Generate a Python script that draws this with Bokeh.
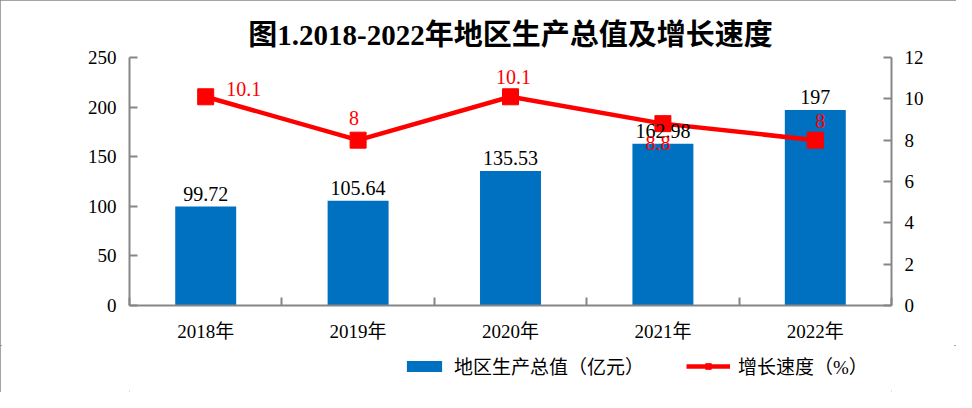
from bokeh.plotting import figure
from bokeh.layouts import column
from bokeh.models import (Range1d, FactorRange, LinearAxis, FixedTicker, ColumnDataSource,
                          LabelSet, Legend, LegendItem, Title)
from bokeh.core.properties import value
from bokeh.embed import file_html
from bokeh.resources import INLINE

# ---------------- data ----------------
years = ["2018年", "2019年", "2020年", "2021年", "2022年"]
gdp = [99.72, 105.64, 135.53, 162.98, 197]
growth = [10.1, 8, 10.1, 8.8, 8]
gdp_ticks = [0, 50, 100, 150, 200, 250]
growth_ticks = [0, 2, 4, 6, 8, 10, 12]

title_text = "图1.2018-2022年地区生产总值及增长速度"
legend_gdp = "地区生产总值（亿元）"
legend_growth = "增长速度（%）"

gdp_labels = [f"{v:g}" for v in gdp]
growth_labels = [f"{v:g}" for v in growth]

# label placement offsets (pixels)
growth_dx = [38, -4, 3, -5, 5]
growth_dy = [1, 15, 13, -26, 12]

# ---------------- styles ----------------
FONT = "Liberation Serif, Noto Sans CJK SC"
BLUE = "#0070C0"
RED = "#FF0000"
GRAY = "#868686"

src = ColumnDataSource(dict(years=years, gdp=gdp, growth=growth,
                            gdp_label=gdp_labels, growth_label=growth_labels,
                            dx=growth_dx, dy=growth_dy))

p = figure(frame_width=762, frame_height=248, output_backend="svg", toolbar_location=None,
           x_range=FactorRange(factors=years, range_padding=0),
           y_range=Range1d(0, gdp_ticks[-1]),
           x_axis_location=None, y_axis_location=None,
           min_border_left=129, min_border_right=65, min_border_top=57, min_border_bottom=40)
p.extra_y_ranges = {"rate": Range1d(0, growth_ticks[-1])}
p.outline_line_color = None
p.background_fill_color = "white"
p.border_fill_color = "white"
p.grid.visible = False

p.title = Title(text=title_text, align="center", offset=-6, standoff=14,
                text_font=FONT, text_font_size="29px", text_font_style="bold",
                text_color="black")


def style_axis(ax):
    ax.axis_line_color = GRAY
    ax.axis_line_width = 2
    ax.major_tick_line_color = GRAY
    ax.major_tick_line_width = 2
    ax.major_tick_in = 8
    ax.major_tick_out = 0
    ax.minor_tick_line_color = None
    ax.major_label_text_font = FONT
    ax.major_label_text_font_size = "19px"
    ax.major_label_text_color = "black"
    ax.major_label_standoff = 13


left = LinearAxis(ticker=FixedTicker(ticks=gdp_ticks))
style_axis(left)
p.add_layout(left, "left")

right = LinearAxis(y_range_name="rate", ticker=FixedTicker(ticks=growth_ticks))
style_axis(right)
p.add_layout(right, "right")

# category slots in synthetic coordinates: labels at centres, ticks at boundaries
centers = [i + 0.5 for i in range(len(years))]
bottom = LinearAxis(ticker=FixedTicker(ticks=centers, minor_ticks=list(range(len(years) + 1))),
                    major_label_overrides={c: y for c, y in zip(centers, years)})
style_axis(bottom)
bottom.major_tick_line_color = None
bottom.minor_tick_line_color = GRAY
bottom.minor_tick_line_width = 2
bottom.minor_tick_in = 8
bottom.minor_tick_out = 0
bottom.major_label_standoff = 15
p.add_layout(bottom, "below")

# ---------------- glyphs ----------------
p.vbar(x="years", top="gdp", width=0.4, source=src, fill_color=BLUE, line_color=None)
p.line(x="years", y="growth", source=src, y_range_name="rate", line_color=RED, line_width=4.5)
p.scatter(x="years", y="growth", source=src, y_range_name="rate", marker="square",
          size=16, fill_color=RED, line_color=RED)

p.add_layout(LabelSet(x="years", y="gdp", text="gdp_label", source=src,
                      text_align="center", text_baseline="alphabetic", y_offset=6,
                      text_font=value(FONT), text_font_size="20px", text_color="black"))
p.add_layout(LabelSet(x="years", y="growth", text="growth_label", source=src, y_range_name="rate",
                      x_offset="dx", y_offset="dy",
                      text_align="center", text_baseline="alphabetic",
                      text_font=value(FONT), text_font_size="20px", text_color=RED))

# ---------------- legend strip (separate figure below the chart) ----------------
lg = figure(width=956, height=47, output_backend="svg", toolbar_location=None,
            x_range=FactorRange(factors=years, range_padding=0), y_range=Range1d(1000, 1001),
            x_axis_location=None, y_axis_location=None, min_border=0)
lg.outline_line_color = None
lg.background_fill_color = "white"
lg.border_fill_color = "white"
lg.grid.visible = False
# legend keys (their data lie outside this strip's range, only the keys show)
k_bar = lg.vbar(x="years", top="gdp", width=0.4, source=src, fill_color=BLUE, line_color=None)
k_line = lg.line(x="years", y="growth", source=src, line_color=RED, line_width=4.5)
k_pts = lg.scatter(x="years", y="growth", source=src, marker="square", size=16,
                   fill_color=RED, line_color=RED)

legend = Legend(items=[LegendItem(label=legend_gdp, renderers=[k_bar]),
                       LegendItem(label=legend_growth, renderers=[k_line, k_pts])],
                location=(273, 13), orientation="horizontal",
                glyph_width=44, glyph_height=14, label_height=20, label_width=232,
                label_standoff=8, spacing=0, padding=0, margin=0,
                label_text_font=FONT, label_text_font_size="19px", label_text_color="black",
                border_line_color=None, background_fill_alpha=0)
lg.add_layout(legend)

layout = column(p, lg, spacing=0)
layout.styles = {"outline": "2px solid #868686", "outline-offset": "-2px"}

open("out.html", "w").write(file_html(layout, INLINE))
